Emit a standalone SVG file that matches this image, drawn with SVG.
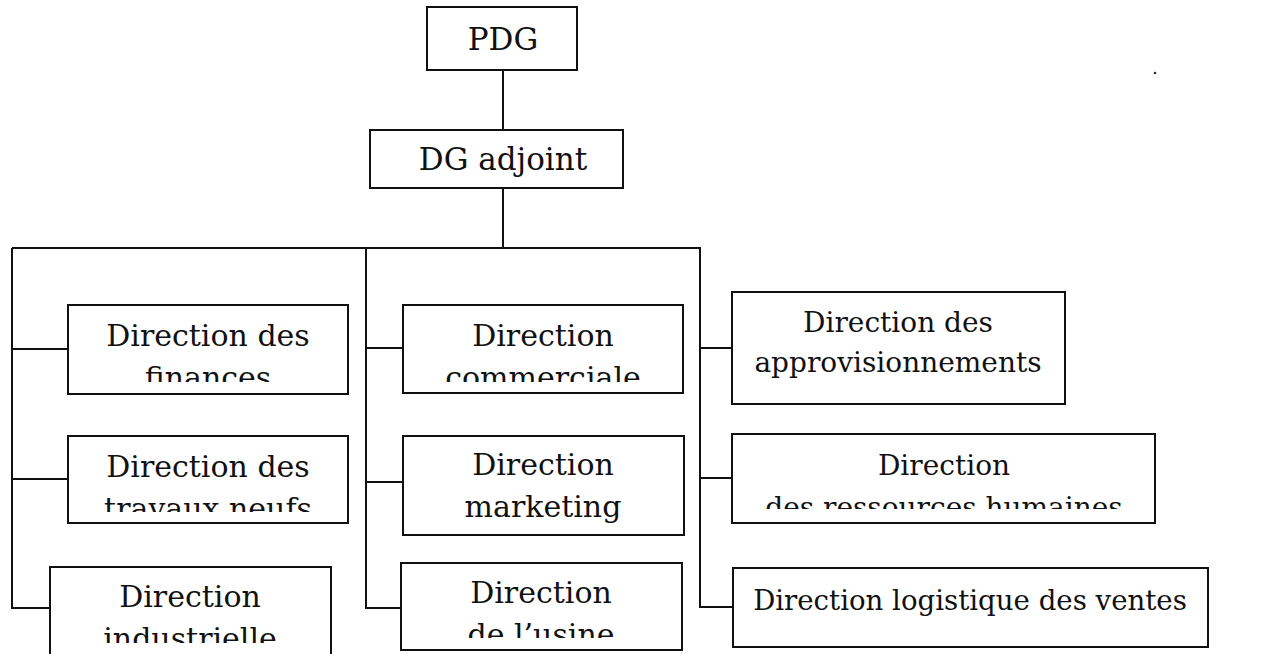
<svg xmlns="http://www.w3.org/2000/svg" width="1267" height="654" viewBox="0 0 1267 654">
  <style>
    .box { fill: #fff; stroke: #111; stroke-width: 2; }
    .wire { fill: none; stroke: #111; stroke-width: 2; }
    .lbl { font-family: "DejaVu Serif", "Liberation Serif", serif; font-size: 28px; fill: #111; text-anchor: middle; }
    .big { font-size: 30px; }
    .top { font-size: 31px; }
  </style>
  <defs>
    <!-- text areas: second lines are cut at the bottom of each text frame -->
    <clipPath id="cFin"><rect x="68" y="300" width="280" height="82"/></clipPath>
    <clipPath id="cTrav"><rect x="68" y="430" width="280" height="82"/></clipPath>
    <clipPath id="cInd"><rect x="50" y="560" width="281" height="83"/></clipPath>
    <clipPath id="cCom"><rect x="403" y="300" width="280" height="82"/></clipPath>
    <clipPath id="cUsi"><rect x="401" y="560" width="281" height="78"/></clipPath>
    <clipPath id="cRH"><rect x="732" y="430" width="423" height="79"/></clipPath>
  </defs>

  <!-- connectors -->
  <g id="connectors">
    <line class="wire" x1="503" y1="70" x2="503" y2="130"/>
    <line class="wire" x1="503" y1="188" x2="503" y2="248"/>
    <line class="wire" x1="12" y1="248" x2="701" y2="248"/>
    <polyline class="wire" points="12,248 12,608 50,608"/>
    <line class="wire" x1="12" y1="349" x2="68" y2="349"/>
    <line class="wire" x1="12" y1="479" x2="68" y2="479"/>
    <polyline class="wire" points="366,248 366,608 401,608"/>
    <line class="wire" x1="366" y1="348" x2="403" y2="348"/>
    <line class="wire" x1="366" y1="482" x2="403" y2="482"/>
    <polyline class="wire" points="700,248 700,607 733,607"/>
    <line class="wire" x1="700" y1="348" x2="732" y2="348"/>
    <line class="wire" x1="700" y1="478" x2="732" y2="478"/>
  </g>

  <g id="pdg">
    <rect class="box" x="427" y="7" width="150" height="63"/>
    <text class="lbl top" x="503" y="50">PDG</text>
  </g>
  <g id="dg-adjoint">
    <rect class="box" x="370" y="130" width="253" height="58"/>
    <text class="lbl top" x="503" y="170">DG adjoint</text>
  </g>

  <g id="dir-finances">
    <rect class="box" x="68" y="305" width="280" height="89"/>
    <g clip-path="url(#cFin)">
      <text class="lbl big" x="208" y="346">Direction des</text>
      <text class="lbl big" x="208" y="388">finances</text>
    </g>
  </g>
  <g id="dir-travaux">
    <rect class="box" x="68" y="436" width="280" height="87"/>
    <g clip-path="url(#cTrav)">
      <text class="lbl big" x="208" y="477">Direction des</text>
      <text class="lbl big" x="208" y="519">travaux neufs</text>
    </g>
  </g>
  <g id="dir-industrielle">
    <rect class="box" x="50" y="567" width="281" height="92"/>
    <g clip-path="url(#cInd)">
      <text class="lbl big" x="190" y="607">Direction</text>
      <text class="lbl big" x="190" y="649">industrielle</text>
    </g>
  </g>

  <g id="dir-commerciale">
    <rect class="box" x="403" y="305" width="280" height="88"/>
    <g clip-path="url(#cCom)">
      <text class="lbl big" x="543" y="346">Direction</text>
      <text class="lbl big" x="543" y="388">commerciale</text>
    </g>
  </g>
  <g id="dir-marketing">
    <rect class="box" x="403" y="436" width="281" height="99"/>
    <text class="lbl big" x="543" y="475">Direction</text>
    <text class="lbl big" x="543" y="517">marketing</text>
  </g>
  <g id="dir-usine">
    <rect class="box" x="401" y="563" width="281" height="87"/>
    <g clip-path="url(#cUsi)">
      <text class="lbl big" x="541" y="603">Direction</text>
      <text class="lbl big" x="541" y="645">de l’usine</text>
    </g>
  </g>

  <g id="dir-approvisionnements">
    <rect class="box" x="732" y="292" width="333" height="112"/>
    <text class="lbl" x="898" y="332">Direction des</text>
    <text class="lbl" x="898" y="372">approvisionnements</text>
  </g>
  <g id="dir-rh">
    <rect class="box" x="732" y="434" width="423" height="89"/>
    <g clip-path="url(#cRH)">
      <text class="lbl" x="944" y="475">Direction</text>
      <text class="lbl" x="944" y="517">des ressources humaines</text>
    </g>
  </g>
  <g id="dir-logistique">
    <rect class="box" x="733" y="568" width="475" height="79"/>
    <text class="lbl" x="970" y="610" style="font-size:27.6px">Direction logistique des ventes</text>
  </g>

  <circle cx="1155" cy="73" r="1.3" fill="#333"/>
</svg>
